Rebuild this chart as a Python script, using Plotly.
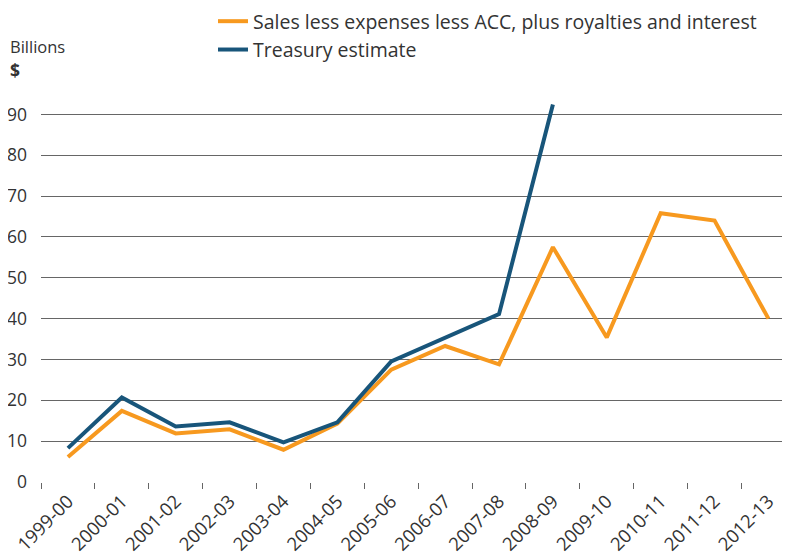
import plotly.graph_objects as go

years = ["1999-00", "2000-01", "2001-02", "2002-03", "2003-04", "2004-05", "2005-06",
         "2006-07", "2007-08", "2008-09", "2009-10", "2010-11", "2011-12", "2012-13"]
sales_less = [6.1, 17.4, 11.9, 12.9, 7.9, 14.3, 27.5, 33.3, 28.8, 57.5, 35.4, 65.8, 64.0, 40.0]
treasury_years = years[:10]
treasury = [8.3, 20.7, 13.6, 14.6, 9.7, 14.6, 29.5, 35.2, 41.1, 92.4]

ORANGE = "#F7991F"
BLUE = "#18557A"
FONT = "Open Sans, Lato, Arial, sans-serif"

OFF = 8  # page body offset
W, H = 790, 559
L, R, T, B = 41 - OFF, 8, 94 - OFF, 559 - (482 - OFF)
pw = W - L - R
ph = H - T - B


def px2paper(px, py):
    # page pixel -> paper coords
    fx, fy = px - OFF, py - OFF
    return (fx - L) / pw, (H - B - fy) / ph


fig = go.Figure()
fig.add_trace(go.Scatter(x=years, y=sales_less, mode="lines",
                         name="Sales less expenses less ACC, plus royalties and interest",
                         legendgroup="a",
                         line=dict(color=ORANGE, width=4), cliponaxis=False))
fig.add_trace(go.Scatter(x=treasury_years, y=treasury, mode="lines",
                         name="Treasury estimate", legendgroup="b",
                         line=dict(color=BLUE, width=4), cliponaxis=False))

lx, ly = px2paper(213, 2)
bx, by = px2paper(8, 46)
dx, dy = px2paper(8, 70)

fig.update_layout(
    width=W, height=H,
    margin=dict(l=L, r=R, t=T, b=B, autoexpand=False),
    plot_bgcolor="white", paper_bgcolor="white",
    font=dict(family=FONT, size=16, color="#333333"),
    showlegend=True,
    legend=dict(x=lx, y=ly, xanchor="left", yanchor="top",
                font=dict(size=19.5, color="#333333"), tracegroupgap=1,
                bgcolor="rgba(0,0,0,0)", traceorder="normal"),
    xaxis=dict(type="category", range=[-0.5, 13.4], tickangle=-45, automargin=False,
               tickson="boundaries", ticks="outside", ticklen=6, tickcolor="#666666",
               showgrid=False, showline=False, zeroline=False, ticklabelstandoff=4,
               tickfont=dict(size=18.5, color="#333333")),
    yaxis=dict(range=[0, 95], tickvals=[0, 10, 20, 30, 40, 50, 60, 70, 80, 90],
               automargin=False,
               showgrid=True, gridcolor="#666666", gridwidth=1.3,
               zeroline=False, showline=False, ticks="", ticklabelstandoff=13,
               tickfont=dict(size=17.5, color="#333333")),
    annotations=[
        dict(text="Billions", x=bx, y=by, xref="paper", yref="paper", showarrow=False,
             xanchor="left", yanchor="middle", font=dict(size=16.5, color="#333333")),
        dict(text="<b>$</b>", x=dx, y=dy, xref="paper", yref="paper", showarrow=False,
             xanchor="left", yanchor="middle", font=dict(size=17.5, color="#333333")),
    ],
)

fig.write_html("out.html")
